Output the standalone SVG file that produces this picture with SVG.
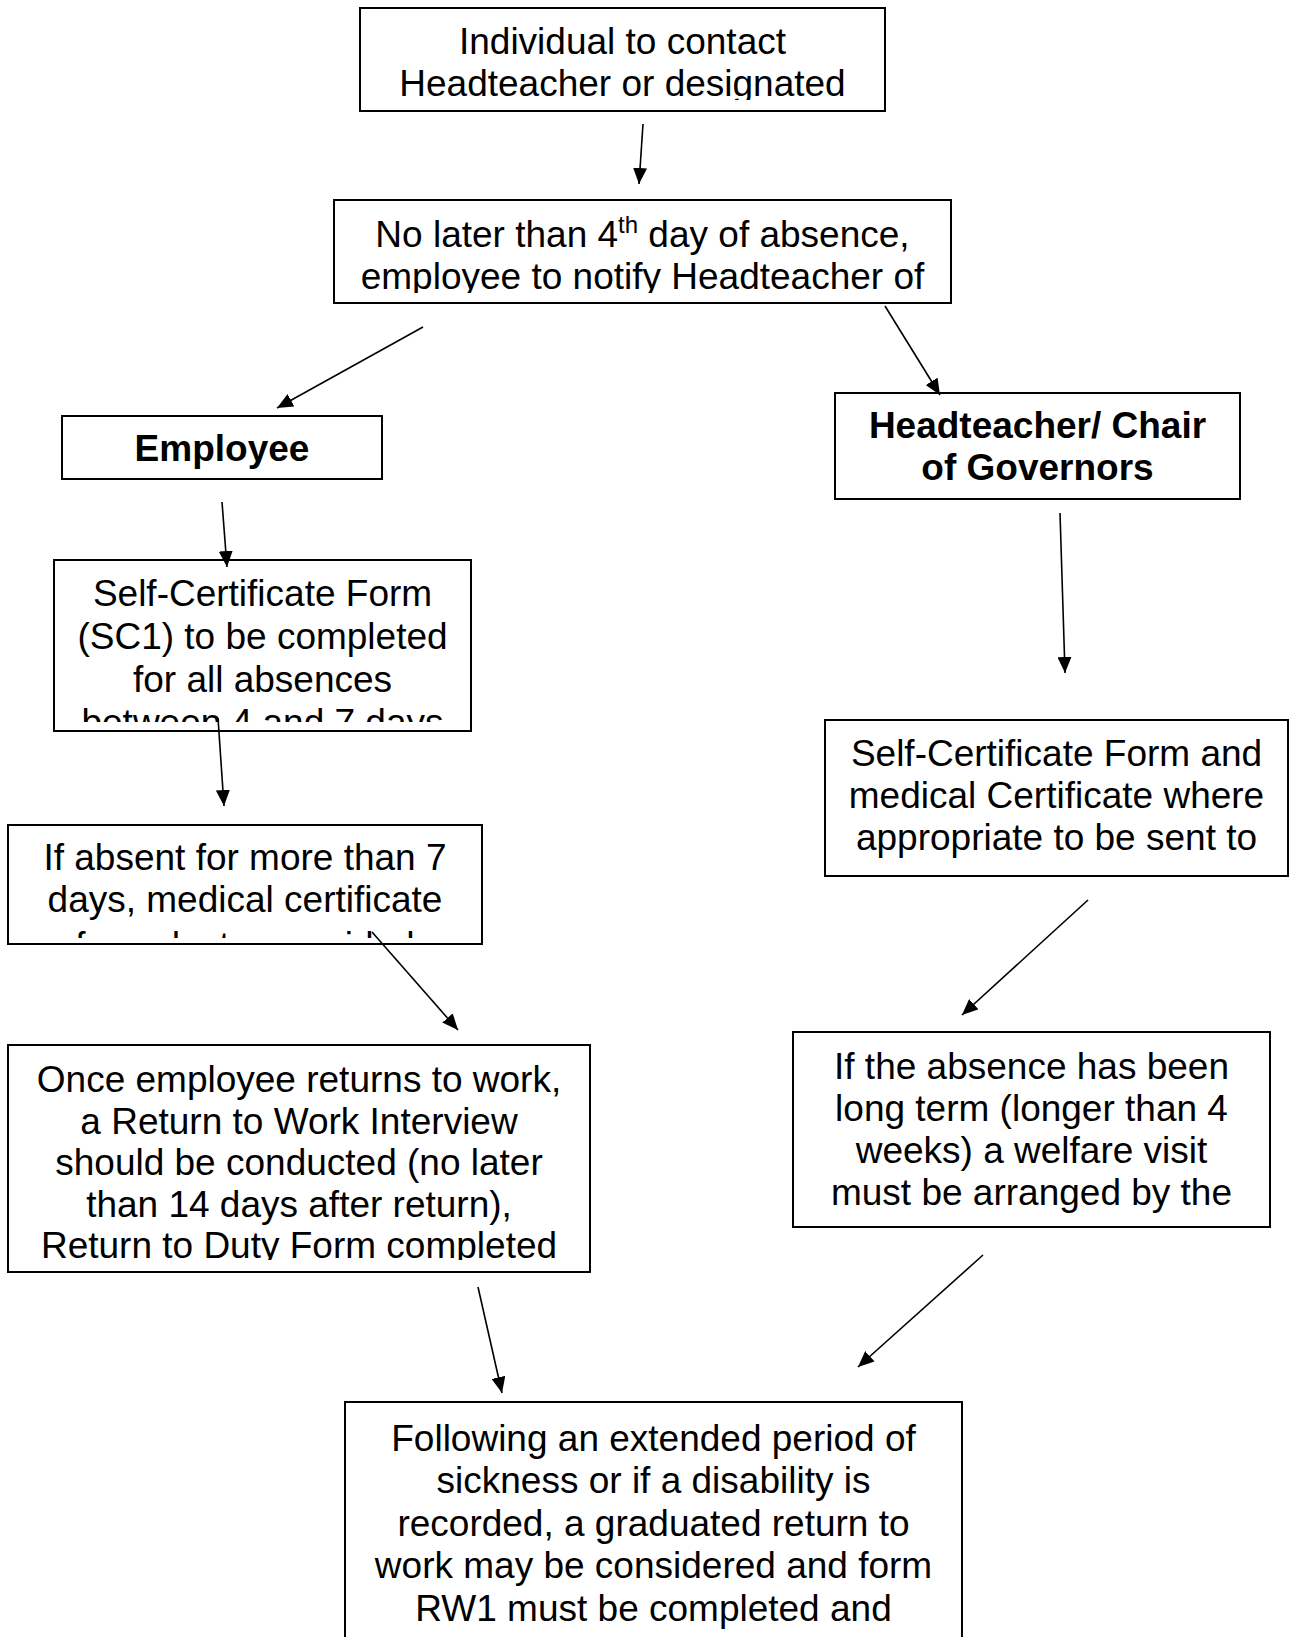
<svg xmlns="http://www.w3.org/2000/svg" width="1289" height="1637" viewBox="0 0 1289 1637">
<style>
.box{fill:#fff;stroke:#000;stroke-width:2}
.t{font-family:"Liberation Sans",Arial,sans-serif;font-size:37px;text-anchor:middle;fill:#000}
.b{font-weight:bold}
.c{stroke:#000;stroke-width:1.6;fill:none;marker-end:url(#ah)}
</style>
<defs>
<marker id="ah" markerUnits="userSpaceOnUse" markerWidth="17" markerHeight="14" refX="16" refY="7" orient="auto">
<path d="M0,0 L16,7 L0,14 z" fill="#000"/>
</marker>
<clipPath id="k1"><rect x="360" y="8" width="525" height="92"/></clipPath>
<clipPath id="k2"><rect x="334" y="200" width="617" height="93"/></clipPath>
<clipPath id="k5"><rect x="54" y="560" width="417" height="162"/></clipPath>
<clipPath id="k6"><rect x="8" y="825" width="474" height="113"/></clipPath>
<clipPath id="k7"><rect x="8" y="1045" width="582" height="215"/></clipPath>
<clipPath id="k8"><rect x="825" y="720" width="463" height="146"/></clipPath>
<clipPath id="k9"><rect x="793" y="1032" width="477" height="185"/></clipPath>
</defs>
<g id="n1">
<rect class="box" x="360" y="8" width="525" height="103"/>
<text class="t" clip-path="url(#k1)"><tspan x="622.5" y="54">Individual to contact</tspan><tspan x="622.5" y="96">Headteacher or designated</tspan></text>
</g>
<g id="n2">
<rect class="box" x="334" y="200" width="617" height="103"/>
<text class="t" clip-path="url(#k2)"><tspan x="642.5" y="247">No later than 4<tspan font-size="24" dy="-14">th</tspan><tspan dy="14"> day of absence,</tspan></tspan><tspan x="642.5" y="289">employee to notify Headteacher of</tspan></text>
</g>
<g id="n3">
<rect class="box" x="62" y="416" width="320" height="63"/>
<text class="t b" x="222" y="461">Employee</text>
</g>
<g id="n4">
<rect class="box" x="835" y="393" width="405" height="106"/>
<text class="t b"><tspan x="1037.5" y="438">Headteacher/ Chair</tspan><tspan x="1037.5" y="480">of Governors</tspan></text>
</g>
<g id="n5">
<rect class="box" x="54" y="560" width="417" height="171"/>
<text class="t" clip-path="url(#k5)"><tspan x="262.5" y="606">Self-Certificate Form</tspan><tspan x="262.5" y="649">(SC1) to be completed</tspan><tspan x="262.5" y="692">for all absences</tspan><tspan x="262.5" y="735">between 4 and 7 days</tspan></text>
</g>
<g id="n6">
<rect class="box" x="8" y="825" width="474" height="119"/>
<text class="t" clip-path="url(#k6)"><tspan x="245" y="870">If absent for more than 7</tspan><tspan x="245" y="912">days, medical certificate</tspan><tspan x="245" y="958">from doctor provided</tspan></text>
</g>
<g id="n7">
<rect class="box" x="8" y="1045" width="582" height="227"/>
<text class="t" clip-path="url(#k7)"><tspan x="299" y="1092">Once employee returns to work,</tspan><tspan x="299" y="1134">a Return to Work Interview</tspan><tspan x="299" y="1175">should be conducted (no later</tspan><tspan x="299" y="1217">than 14 days after return),</tspan><tspan x="299" y="1258">Return to Duty Form completed</tspan></text>
</g>
<g id="n8">
<rect class="box" x="825" y="720" width="463" height="156"/>
<text class="t" clip-path="url(#k8)"><tspan x="1056.5" y="766">Self-Certificate Form and</tspan><tspan x="1056.5" y="808">medical Certificate where</tspan><tspan x="1056.5" y="850">appropriate to be sent to</tspan></text>
</g>
<g id="n9">
<rect class="box" x="793" y="1032" width="477" height="195"/>
<text class="t" clip-path="url(#k9)"><tspan x="1031.5" y="1079">If the absence has been</tspan><tspan x="1031.5" y="1121">long term (longer than 4</tspan><tspan x="1031.5" y="1163">weeks) a welfare visit</tspan><tspan x="1031.5" y="1205">must be arranged by the</tspan></text>
</g>
<g id="n10">
<rect class="box" x="345" y="1402" width="617" height="260"/>
<text class="t"><tspan x="653.5" y="1451">Following an extended period of</tspan><tspan x="653.5" y="1493">sickness or if a disability is</tspan><tspan x="653.5" y="1536">recorded, a graduated return to</tspan><tspan x="653.5" y="1578">work may be considered and form</tspan><tspan x="653.5" y="1621">RW1 must be completed and</tspan></text>
</g>
<g id="connectors">
<line class="c" x1="643" y1="124" x2="639" y2="184"/>
<line class="c" x1="423" y1="327" x2="277" y2="408"/>
<line class="c" x1="885" y1="306" x2="940" y2="395"/>
<line class="c" x1="222" y1="502" x2="227" y2="567"/>
<line class="c" x1="218" y1="718" x2="224" y2="806"/>
<line class="c" x1="372" y1="932" x2="458" y2="1030"/>
<line class="c" x1="1060" y1="513" x2="1065" y2="673"/>
<line class="c" x1="1088" y1="900" x2="962" y2="1015"/>
<line class="c" x1="983" y1="1255" x2="858" y2="1367"/>
<line class="c" x1="478" y1="1287" x2="502" y2="1393"/>
</g>
</svg>
